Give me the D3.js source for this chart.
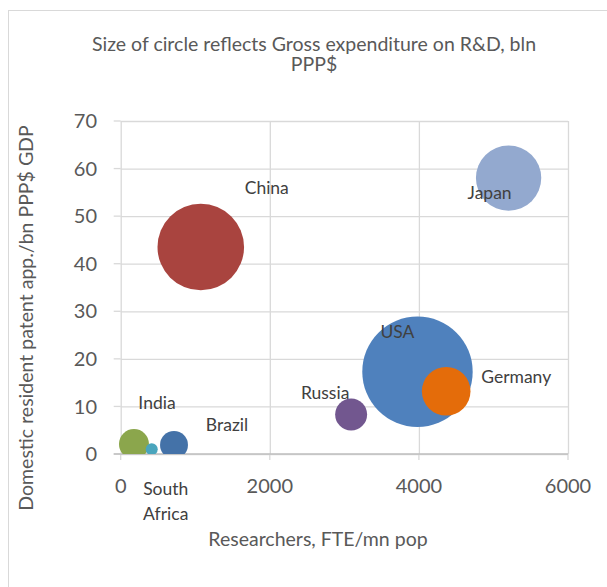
<!DOCTYPE html>
<html>
<head>
<meta charset="utf-8">
<script src="https://cdn.jsdelivr.net/npm/d3@7"></script>
<style>
  body { margin: 0; background: #fff; }
  text { font-family: Lato, "Open Sans", sans-serif; }
</style>
</head>
<body>
<svg></svg>
<script>
// chart data
const countries = ["USA", "China", "Japan", "Germany", "Russia", "India", "South Africa", "Brazil"];
const researchers = [3981, 1074, 5203, 4366, 3091, 178, 416, 715];      // FTE per mn pop
const patents = [17.3, 43.5, 58.0, 13.2, 8.3, 2.1, 1.0, 1.9];           // per bn PPP$ GDP
const gerd = [454, 279, 159, 88, 38, 33.5, 5.4, 29];                    // bln PPP$
const xTicks = [0, 2000, 4000, 6000];
const yTicks = [0, 10, 20, 30, 40, 50, 60, 70];

// look
const colors = ["#4f81bd", "#a9443f", "#93a9cf", "#e46c0a", "#72578f", "#8ba64c", "#4aa5bd", "#4472a8"];
const labelOffsets = [[-20, -34], [66, -53], [-19, 21], [70, -8], [-26, -16], [23, -35], [14, 46], [53, -14]];

const width = 607;
const height = 587;
const plotLeft = 120.7, plotRight = 568, plotTop = 121, plotBottom = 454;

const data = countries.map((c, i) => ({
  name: c, x: researchers[i], y: patents[i], size: gerd[i],
  color: colors[i], off: labelOffsets[i]
}));

const xScale = d3.scaleLinear().domain([0, 6000]).range([plotLeft, plotRight]);
const yScale = d3.scaleLinear().domain([0, 70]).range([plotBottom, plotTop]);
const rScale = d3.scaleSqrt().domain([0, 454]).range([0, 55.2]);

const svg = d3.select("svg")
  .attr("width", width)
  .attr("height", height);

// outer chart border
svg.append("rect")
  .attr("x", 8.5).attr("y", 10.5)
  .attr("width", width + 10).attr("height", height + 10)
  .attr("fill", "none").attr("stroke", "#d9d9d9");

// title, two lines
svg.append("g").selectAll("text")
  .data(["Size of circle reflects Gross expenditure on R&D, bln", "PPP$"])
  .enter().append("text")
    .attr("x", 314)
    .attr("y", (d, i) => 50.5 + i * 20)
    .attr("text-anchor", "middle")
    .style("font-size", "19.5px").attr("fill", "#595959")
    .text(d => d);

// grid lines
const xAxis = d3.axisBottom(xScale).tickValues(xTicks).tickSize(-(plotBottom - plotTop)).tickSizeOuter(0).tickFormat("");
const yAxis = d3.axisLeft(yScale).tickValues(yTicks).tickSize(-(plotRight - plotLeft)).tickSizeOuter(0).tickFormat("");

const gx = svg.append("g").attr("transform", `translate(0, ${plotBottom})`).call(xAxis);
const gy = svg.append("g").attr("transform", `translate(${plotLeft}, 0)`).call(yAxis);
[gx, gy].forEach(g => {
  g.select(".domain").remove();
  g.selectAll("line").attr("stroke", "#d9d9d9").attr("stroke-width", 1.3);
});

// small outside ticks + axis line
svg.append("g").selectAll("line").data(xTicks).enter().append("line")
  .attr("x1", d => xScale(d)).attr("x2", d => xScale(d))
  .attr("y1", plotBottom).attr("y2", plotBottom + 6)
  .attr("stroke", "#d9d9d9").attr("stroke-width", 1.3);
svg.append("g").selectAll("line").data(yTicks).enter().append("line")
  .attr("x1", plotLeft - 7).attr("x2", plotLeft)
  .attr("y1", d => yScale(d)).attr("y2", d => yScale(d))
  .attr("stroke", "#d9d9d9").attr("stroke-width", 1.3);
svg.append("line")
  .attr("x1", plotLeft - 7).attr("x2", plotRight)
  .attr("y1", plotBottom).attr("y2", plotBottom)
  .attr("stroke", "#bfbfbf").attr("stroke-width", 1.5);

// tick labels
svg.append("g").selectAll("text").data(xTicks).enter().append("text")
  .attr("x", d => xScale(d)).attr("y", 493)
  .attr("text-anchor", "middle")
  .style("font-size", "20px").attr("fill", "#595959")
  .text(d => d);
svg.append("g").selectAll("text").data(yTicks).enter().append("text")
  .attr("x", 97).attr("y", d => yScale(d))
  .attr("dy", "0.36em")
  .attr("text-anchor", "end")
  .style("font-size", "20px").attr("fill", "#595959")
  .text(d => d);

// axis titles
svg.append("text")
  .attr("x", 318).attr("y", 546)
  .attr("text-anchor", "middle")
  .style("font-size", "19.5px").attr("fill", "#595959")
  .text("Researchers, FTE/mn pop");
svg.append("text")
  .attr("transform", "rotate(-90)")
  .attr("x", -318).attr("y", 33)
  .attr("text-anchor", "middle")
  .style("font-size", "19.5px").attr("fill", "#595959")
  .text("Domestic resident patent app./bn PPP$ GDP");

// bubbles
svg.append("clipPath").attr("id", "plot")
  .append("rect")
  .attr("x", 0).attr("y", 0)
  .attr("width", width).attr("height", plotBottom);

svg.append("g")
  .attr("clip-path", "url(#plot)")
  .selectAll("circle")
  .data(data)
  .enter()
  .append("circle")
    .attr("cx", d => xScale(d.x))
    .attr("cy", d => yScale(d.y))
    .attr("r", d => rScale(d.size))
    .attr("fill", d => d.color);

// labels
svg.append("g").selectAll("text")
  .data(data)
  .enter()
  .append("text")
    .attr("text-anchor", "middle")
    .attr("dy", "0.35em")
    .style("font-size", "17.5px").attr("fill", "#404040")
    .attr("transform", d => `translate(${xScale(d.x) + d.off[0]}, ${yScale(d.y) + d.off[1]})`)
    .each(function(d) {
      const parts = d.name === "South Africa" ? ["South", "Africa"] : [d.name];
      d3.select(this).selectAll("tspan").data(parts).enter().append("tspan")
        .attr("x", 0)
        .attr("dy", (p, i) => i ? 25 : 0)
        .text(p => p);
    });
</script>
</body>
</html>
